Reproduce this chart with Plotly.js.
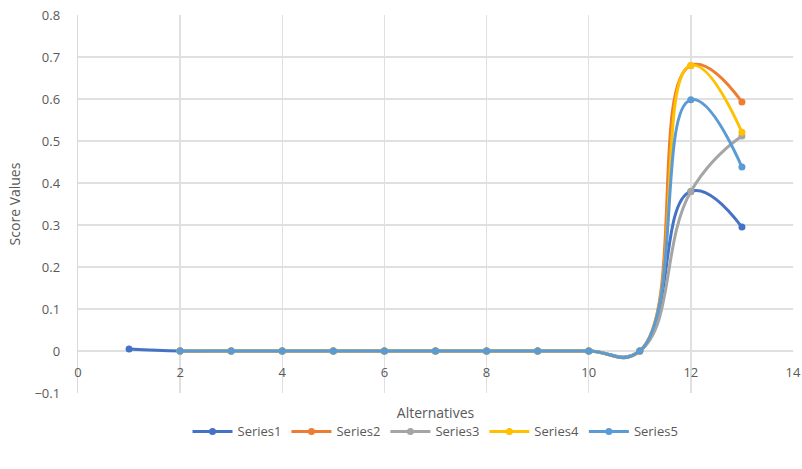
<!DOCTYPE html>
<html><head><meta charset="utf-8">
<script src="https://cdn.plot.ly/plotly-3.0.1.min.js"></script>
<style>html,body{margin:0;padding:0;background:#fff}</style>
</head><body><div id="chart" style="width:802px;height:469px"></div>
<script>
const x1 = [1,2,3,4,5,6,7,8,9,10,11,12,13];
const x2 = [2,3,4,5,6,7,8,9,10,11,12,13];
const series1 = [0.005,0,0,0,0,0,0,0,0,0,0,0.38,0.295];
const series2 = [0,0,0,0,0,0,0,0,0,0,0.68,0.593];
const series3 = [0,0,0,0,0,0,0,0,0,0,0.38,0.512];
const series4 = [0,0,0,0,0,0,0,0,0,0,0.68,0.521];
const series5 = [0,0,0,0,0,0,0,0,0,0,0.598,0.438];
const names = ['Series1','Series2','Series3','Series4','Series5'];
const colors = ['#4472C4','#ED7D31','#A5A5A5','#FFC000','#5B9BD5'];
const xs = [x1,x2,x2,x2,x2];
const ys = [series1,series2,series3,series4,series5];
const traces = ys.map((y,i)=>({
  x: xs[i], y: y, name: names[i], type:'scatter', mode:'lines+markers',
  line:{color:colors[i], width:3, shape:'spline', smoothing:1.3},
  marker:{color:colors[i], size:7}
}));
const layout = {
  width:802, height:469,
  margin:{l:78, r:9, t:15, b:76, autoexpand:false},
  paper_bgcolor:'#fff', plot_bgcolor:'#fff',
  font:{family:'Open Sans, Liberation Sans, sans-serif', color:'#595959', size:13},
  xaxis:{range:[0,14], dtick:2, tick0:0, showgrid:true, gridcolor:'#E0E0E0', gridwidth:1.3,
    zeroline:false, showline:false, anchor:'free', position:1/9, ticks:'', ticklabelstandoff:12,
    tickfont:{size:13, color:'#595959'}, automargin:false,
    title:{text:'Alternatives', font:{size:14,color:'#595959'}, standoff:28}},
  yaxis:{range:[-0.1,0.8], dtick:0.1, showgrid:true, gridcolor:'#E0E0E0', gridwidth:1.3,
    zeroline:true, zerolinecolor:'#E0E0E0', zerolinewidth:1.3, showline:true, linecolor:'#D9D9D9', linewidth:1.3,
    ticks:'', ticklabelstandoff:14, tickfont:{size:13, color:'#595959'}, tickformat:'.1~f', automargin:false,
    title:{text:'Score Values', font:{size:14,color:'#595959'}, standoff:10}},
  legend:{orientation:'h', x:0.5, xanchor:'center', y:-0.062, yanchor:'top',
    font:{size:13,color:'#595959'}, itemwidth:40},
  showlegend:true
};
Plotly.newPlot('chart', traces, layout, {displayModeBar:false, staticPlot:true});
</script></body></html>
